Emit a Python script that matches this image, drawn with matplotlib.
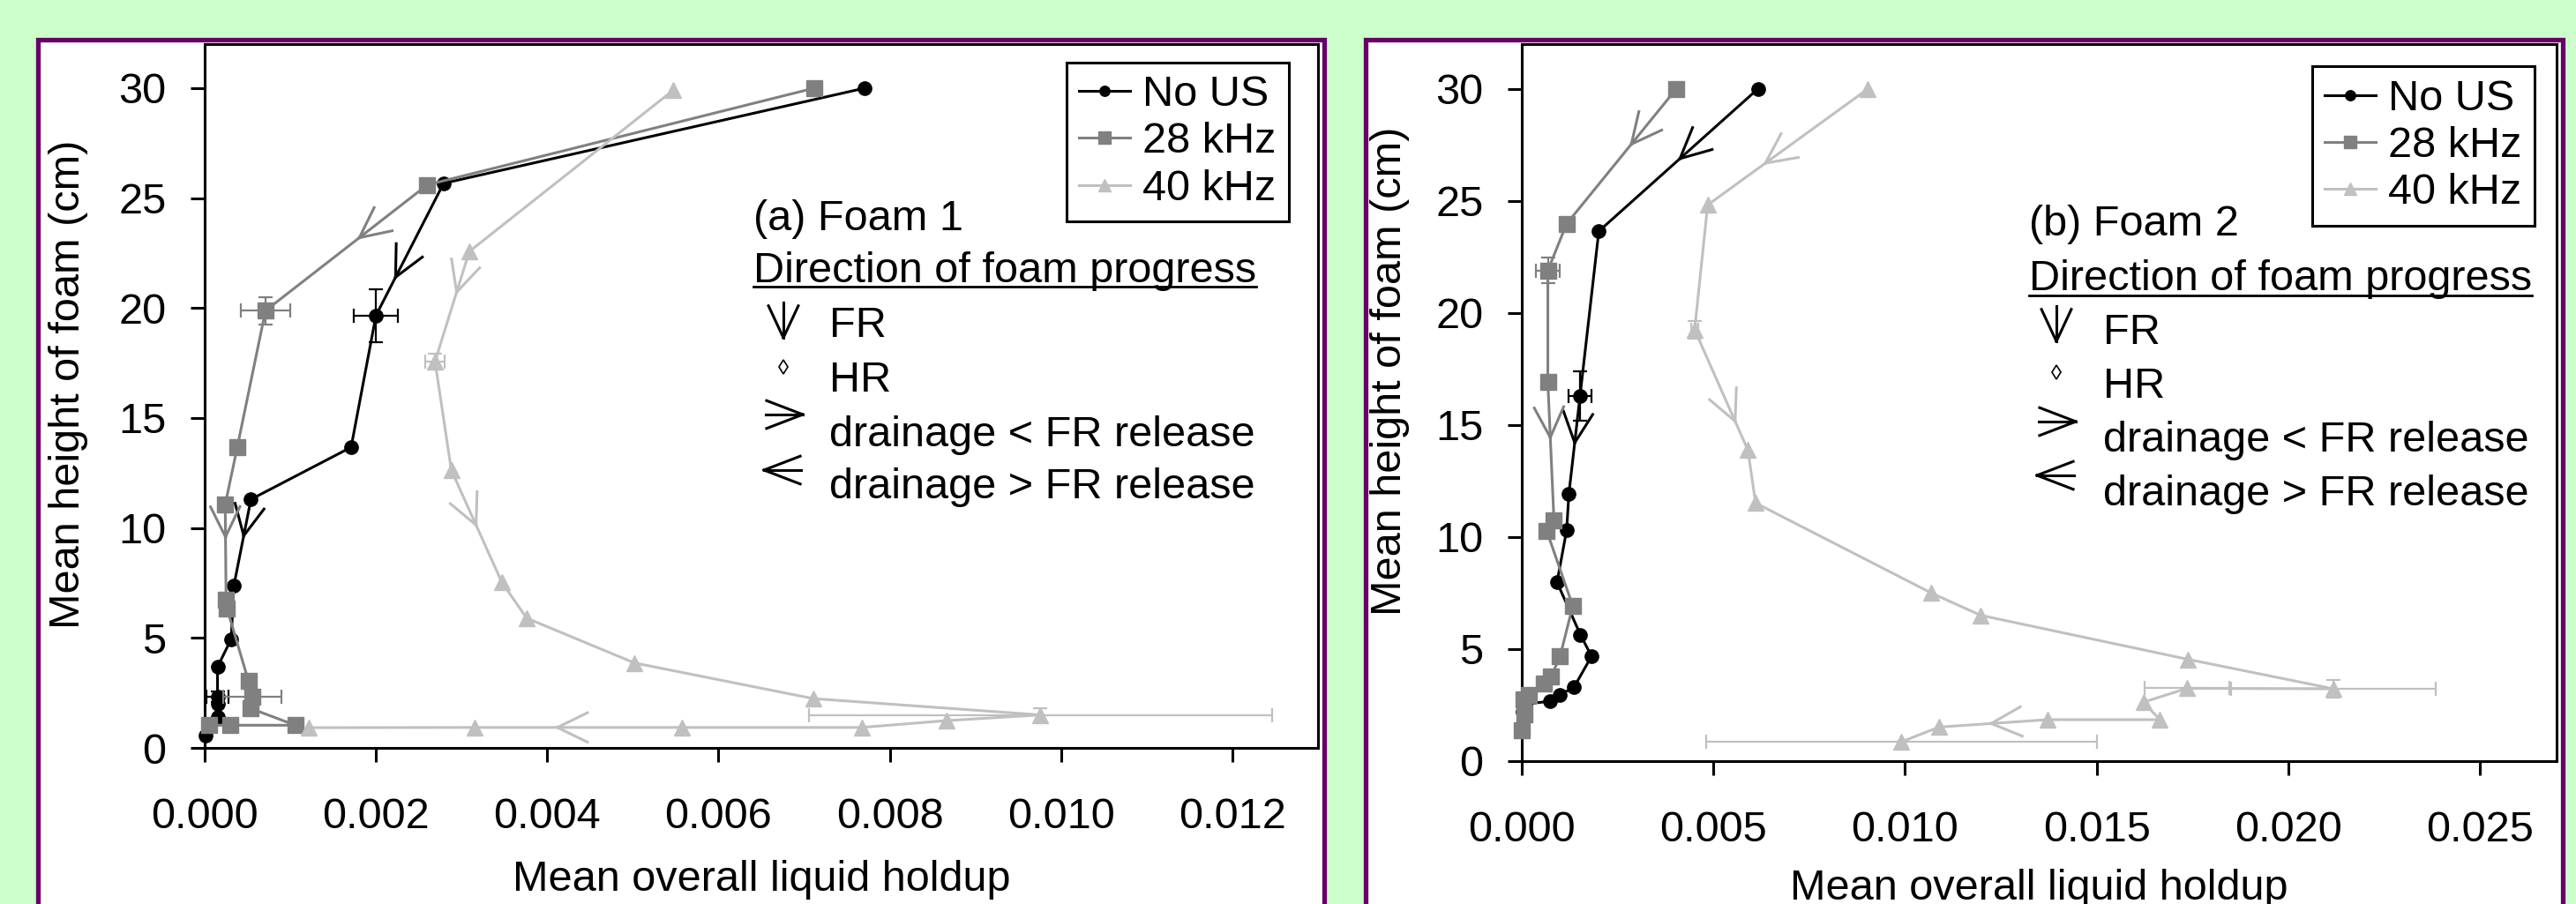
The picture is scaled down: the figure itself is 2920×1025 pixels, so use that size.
import numpy as np
import matplotlib
matplotlib.use('Agg')
import matplotlib.pyplot as plt
from matplotlib.patches import Rectangle
from matplotlib.ticker import FormatStrFormatter

plt.rcParams['font.family'] = ['Liberation Sans', 'DejaVu Sans']

# ---- (a) Foam 1, points ordered from the top of the foam downwards
a_nous_x = [0.00771, 0.00279, 0.00200, 0.00171, 0.00054, 0.00034, 0.00031, 0.00015, 0.00015, 0.00015, 0.00015, 0.00001]
a_nous_y = [30.0, 25.67, 19.66, 13.67, 11.30, 7.36, 4.95, 3.68, 2.32, 2.00, 1.40, 0.55]
a_28_x = [0.00712, 0.00260, 0.00071, 0.00038, 0.00024, 0.00025, 0.00026, 0.00051, 0.00056, 0.00054, 0.00106, 0.00030, 0.00005]
a_28_y = [30.0, 25.60, 19.88, 13.66, 11.06, 6.75, 6.35, 3.06, 2.32, 1.79, 1.03, 1.03, 1.03]
a_40_x = [0.00547, 0.00309, 0.00269, 0.00288, 0.00347, 0.00376, 0.00502, 0.00711, 0.00976, 0.00866, 0.00767, 0.00557, 0.00315, 0.00122]
a_40_y = [29.9, 22.57, 17.57, 12.63, 7.53, 5.90, 3.86, 2.24, 1.50, 1.24, 0.93, 0.93, 0.93, 0.92]
# error bars: (point index, xerr, yerr)
a_nous_err = [(2, 0.00026, 1.2), (8, 0.00013, 0.25)]
a_28_err = [(2, 0.00029, 0.63), (8, 0.00034, 0.2)]
a_40_err = [(2, 0.00011, 0.37), (8, 0.0027, 0.3)]
# direction arrows: (segment index, fraction along the segment)
a_nous_arr = [(1, 0.71), (4, 0.42)]
a_28_arr = [(1, 0.42), (4, 0.34)]
a_40_arr = [(1, 0.37), (3, 0.49), (11, 0.60)]
a_xticks = [0.000, 0.002, 0.004, 0.006, 0.008, 0.010, 0.012]

# ---- (b) Foam 2
b_nous_x = [0.00616, 0.00201, 0.00152, 0.00123, 0.00117, 0.00092, 0.00153, 0.00182, 0.00136, 0.00100, 0.00073, 0.00010, 0.00003]
b_nous_y = [30.0, 23.65, 16.30, 11.94, 10.31, 7.98, 5.64, 4.68, 3.29, 2.97, 2.67, 2.55, 2.20]
b_28_x = [0.00403, 0.00117, 0.00068, 0.00068, 0.00084, 0.00065, 0.00133, 0.00100, 0.00077, 0.00058, 0.00019, 0.00004, 0.00006, 0.00000]
b_28_y = [30.0, 23.98, 21.90, 16.92, 10.73, 10.28, 6.93, 4.68, 3.79, 3.46, 2.94, 2.74, 2.08, 1.36]
b_40_x = [0.00903, 0.00485, 0.00451, 0.00590, 0.00610, 0.01069, 0.01197, 0.01739, 0.02117, 0.01736, 0.01622, 0.01665, 0.01372, 0.01089, 0.00990]
b_40_y = [30.0, 24.82, 19.25, 13.88, 11.52, 7.50, 6.51, 4.54, 3.23, 3.25, 2.63, 1.85, 1.85, 1.52, 0.86]
b_nous_err = [(2, 0.00029, 1.1)]
b_28_err = [(2, 0.00031, 0.57)]
b_40_err = [(2, 0.0001, 0.4), (8, 0.00267, 0.4), (9, 0.0011, 0.0), (14, 0.0051, 0.0)]
b_nous_arr = [(0, 0.49), (2, 0.48)]
b_28_arr = [(0, 0.41), (3, 0.40)]
b_40_arr = [(0, 0.64), (2, 0.76), (12, 0.52)]
b_xticks = [0.000, 0.005, 0.010, 0.015, 0.020, 0.025]

yticks = [0, 5, 10, 15, 20, 25, 30]
series_names = ['No US', '28 kHz', '40 kHz']
key_labels = ['FR', 'HR', 'drainage < FR release', 'drainage > FR release']

BG = '#ccffcc'
PURPLE = '#660066'
COLORS = ['black', '#808080', '#c0c0c0']
MARKERS = ['o', 's', '^']
MSIZE = [11, 13, 13]
W, H = 2920, 1025
FS = 35
LW = 2.2

fig = plt.figure(figsize=(W / 100, H / 100), dpi=100, facecolor=BG)

# white panels with purple frame (they run off the bottom of the picture)
for x0, x1 in [(42.5, 1500.5), (1547.5, 2904.5)]:
    fig.add_artist(Rectangle((x0 / W, -0.05), (x1 - x0) / W, 1.05 - 44.5 / H,
                             transform=fig.transFigure, facecolor='white',
                             edgecolor=PURPLE, linewidth=3.8, zorder=-1))


def chevron(ax, tip, back, color, length=38, half=26, stem=0, lw=LW):
    # tip in display pixels, back = direction (deg) from the tip back along the shaft
    inv = ax.transData.inverted()
    segs = []
    for s in (-1, 1):
        a = np.radians(back + s * half)
        segs.append((tip, tip + length * np.array([np.cos(a), np.sin(a)])))
    if stem:
        a = np.radians(back)
        segs.append((tip, tip + stem * np.array([np.cos(a), np.sin(a)])))
    for p, q in segs:
        d = inv.transform(np.array([p, q]))
        ax.plot(d[:, 0], d[:, 1], color=color, lw=lw, clip_on=False, zorder=5)


def arrows_on(ax, xs, ys, arr, color):
    pts = ax.transData.transform(np.column_stack([xs, ys]))
    for i, f in arr:
        p0, p1 = pts[i], pts[i + 1]
        tip = p0 + f * (p1 - p0)
        back = np.degrees(np.arctan2(p0[1] - p1[1], p0[0] - p1[0]))
        chevron(ax, tip, back, color)


panels = [
    dict(rect=(232, 50, 1494, 848), xmax=0.013, xticks=a_xticks,
         series=[(a_nous_x, a_nous_y, a_nous_err, a_nous_arr),
                 (a_28_x, a_28_y, a_28_err, a_28_arr),
                 (a_40_x, a_40_y, a_40_err, a_40_arr)],
         ylab=(77, 436), xlab=997, leg=(1461, 70.6), title='(a) Foam 1',
         tx=854, ty=[261, 320], ul=330, kx=940, ky=[382, 444, 506, 565],
         sx=888, sy=[363, 416, 470, 533]),
    dict(rect=(1725, 50, 2898, 863), xmax=0.027, xticks=b_xticks,
         series=[(b_nous_x, b_nous_y, b_nous_err, b_nous_arr),
                 (b_28_x, b_28_y, b_28_err, b_28_arr),
                 (b_40_x, b_40_y, b_40_err, b_40_arr)],
         ylab=(1575, 421), xlab=1007, leg=(2873, 75), title='(b) Foam 2',
         tx=2300, ty=[267, 329], ul=335, kx=2384, ky=[390, 451, 512, 573],
         sx=2331, sy=[367, 422, 478, 539]),
]

heads = []
for p in panels:
    x0, y0, x1, y1 = p['rect']
    ax = fig.add_axes([x0 / W, 1 - y1 / H, (x1 - x0) / W, (y1 - y0) / H])
    fx = lambda px: (px - x0) / (x1 - x0)
    fy = lambda py: (y1 - py) / (y1 - y0)
    p['ax'], p['fx'], p['fy'] = ax, fx, fy

    ax.set_xlim(0, p['xmax'])
    ax.set_ylim(0, 32)
    ax.set_autoscale_on(False)
    ax.set_xticks(p['xticks'])
    ax.set_yticks(yticks)
    ax.xaxis.set_major_formatter(FormatStrFormatter('%.3f'))
    for s in ax.spines.values():
        s.set_linewidth(LW)
    ax.tick_params(direction='out', length=11.5, width=LW, labelsize=FS)
    ax.tick_params(axis='y', pad=20)
    ax.tick_params(axis='x', pad=29)

    handles = []
    for (xs, ys, errs, arr), c, m, ms, name in zip(p['series'], COLORS, MARKERS, MSIZE, series_names):
        h, = ax.plot(xs, ys, color=c, lw=LW, marker=m, ms=ms, mfc=c, mec=c,
                     clip_on=False, zorder=3, label=name)
        handles.append(h)
        for i, xe, ye in errs:
            ax.errorbar(xs[i], ys[i], xerr=xe, yerr=ye if ye else None, fmt='none',
                        ecolor=c, elinewidth=1.6, capsize=6, capthick=1.6,
                        clip_on=False, zorder=3)
        arrows_on(ax, xs, ys, arr, c)

    ax.set_xlabel('Mean overall liquid holdup', fontsize=FS)
    ax.xaxis.set_label_coords(0.5, fy(p['xlab']))
    ax.xaxis.label.set_va('center')
    ax.set_ylabel('Mean height of foam (cm)', fontsize=FS)
    ax.yaxis.set_label_coords(fx(p['ylab'][0]), fy(p['ylab'][1]))
    ax.yaxis.label.set_va('center')

    leg = ax.legend(handles=handles, loc='upper right',
                    bbox_to_anchor=(fx(p['leg'][0]), fy(p['leg'][1])),
                    fontsize=FS, fancybox=False, edgecolor='black', framealpha=1,
                    borderpad=0.3, handlelength=1.2, handletextpad=0.28,
                    labelspacing=0.17, borderaxespad=0, numpoints=1, markerscale=0.75)
    leg.get_frame().set_linewidth(LW)

    ax.text(fx(p['tx']), fy(p['ty'][0]), p['title'], fontsize=FS,
            transform=ax.transAxes, va='baseline')
    head = ax.text(fx(p['tx']), fy(p['ty'][1]), 'Direction of foam progress',
                   fontsize=FS, transform=ax.transAxes, va='baseline')
    heads.append((ax, head, p))
    for lab, yy in zip(key_labels, p['ky']):
        ax.text(fx(p['kx']), fy(yy), lab, fontsize=FS, transform=ax.transAxes, va='baseline')

    # key symbols: FR arrow, HR diamond, > and <
    sx = p['sx']
    to_disp = lambda px, py: ax.transAxes.transform((fx(px), fy(py)))
    chevron(ax, to_disp(sx, p['sy'][0] + 20), 90, 'black', length=40, half=25, stem=40)
    ax.plot(fx(sx), fy(p['sy'][1]), marker='d', ms=8, mfc='white', mec='black',
            mew=1.2, transform=ax.transAxes, clip_on=False)
    chevron(ax, to_disp(sx + 22, p['sy'][2]), 180, 'black', length=44, half=21, stem=42)
    chevron(ax, to_disp(sx - 22, p['sy'][3]), 0, 'black', length=44, half=21, stem=42)

# underline the key heading
fig.canvas.draw()
for ax, head, p in heads:
    bb = head.get_window_extent()
    a0 = ax.transAxes.inverted().transform((bb.x0, 0))[0]
    a1 = ax.transAxes.inverted().transform((bb.x1, 0))[0]
    yy = p['fy'](p['ul'])
    ax.plot([a0, a1], [yy, yy], color='black', lw=2.0, transform=ax.transAxes, clip_on=False)

fig.savefig('out.png', dpi=100, facecolor=BG)
